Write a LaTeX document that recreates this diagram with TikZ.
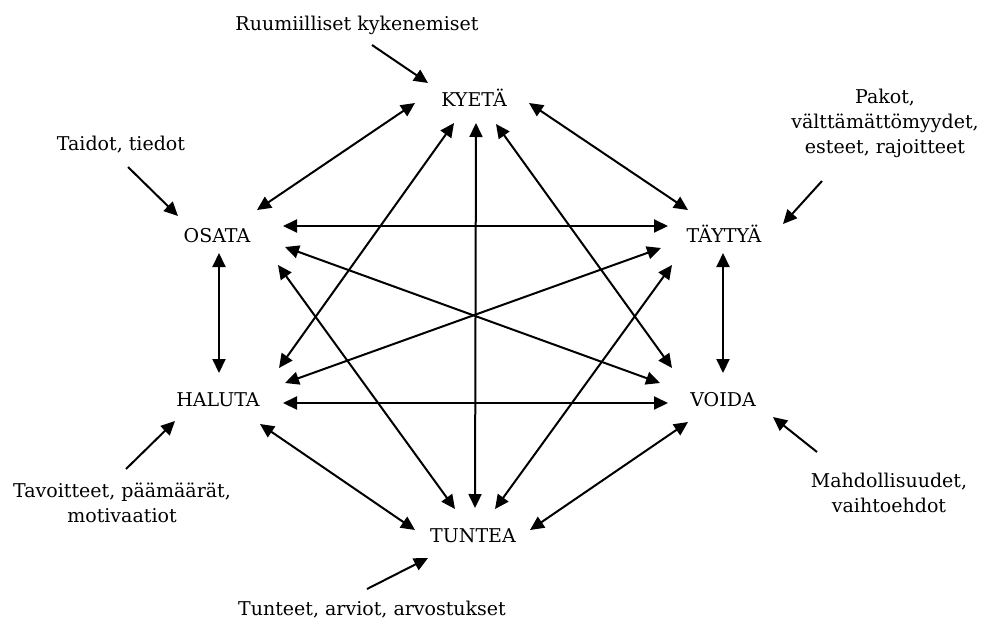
\documentclass[tikz,border=0pt]{standalone}
\usepackage{fontspec}
\setmainfont{DejaVu Serif}
\usetikzlibrary{arrows.meta,calc}
\begin{document}
\begin{tikzpicture}[x=1pt,y=-1pt,
  txt/.style={font=\fontsize{19}{25}\selectfont, inner sep=0pt, anchor=base},
  conn/.style={line width=2pt, {Triangle[length=14pt,width=13pt]}-{Triangle[length=14pt,width=13pt]}},
  lab/.style={line width=2pt, -{Triangle[length=14pt,width=13pt]}}]
\useasboundingbox (0,0) rectangle (987,619);
% main nodes
\node[txt] (kyeta)  at (474,106) {KYETÄ};
\node[txt] (osata)  at (217,242) {OSATA};
\node[txt] (taytya) at (724,242) {TÄYTYÄ};
\node[txt] (haluta) at (218,406) {HALUTA};
\node[txt] (voida)  at (723,406) {VOIDA};
\node[txt] (tuntea) at (473,542) {TUNTEA};
% labels
\node[txt] (ruum) at (357,30) {Ruumiilliset kykenemiset};
\node[txt] (taid) at (121,150) {Taidot, tiedot};
\node[txt] (pak) at (885,103) {\begin{tabular}[t]{@{}c@{}}Pakot,\\välttämättömyydet,\\esteet, rajoitteet\end{tabular}};
\node[txt] (tav) at (122,497) {\begin{tabular}[t]{@{}c@{}}Tavoitteet, päämäärät,\\motivaatiot\end{tabular}};
\node[txt] (mah) at (889,487) {\begin{tabular}[t]{@{}c@{}}Mahdollisuudet,\\vaihtoehdot\end{tabular}};
\node[txt] (tun) at (372,615) {Tunteet, arviot, arvostukset};
% label arrow tails
\coordinate (ruumT) at (372,45);
\coordinate (taidT) at (128,167);
\coordinate (pakT)  at (822,181);
\coordinate (tavT)  at (126,469);
\coordinate (mahT)  at (817,452);
\coordinate (tunT)  at (367,589);
\draw[lab] (ruumT) -- ($(kyeta.base)+(-46,-23)$);
\draw[lab] (taidT) -- ($(osata.base)+(-39,-26)$);
\draw[lab] (pakT)  -- ($(taytya.base)+(59,-18)$);
\draw[lab] (tavT)  -- ($(haluta.base)+(-43,15)$);
\draw[lab] (mahT)  -- ($(voida.base)+(50,11)$);
\draw[lab] (tunT)  -- ($(tuntea.base)+(-45,16)$);
% connectors
\draw[conn] ($(kyeta.base)+(-59,-3)$) -- ($(osata.base)+(40,-32)$);
\draw[conn] ($(kyeta.base)+(55,-3)$) -- ($(taytya.base)+(-36,-32)$);
\draw[conn] ($(kyeta.base)+(-20,17)$) -- ($(haluta.base)+(61,-38)$);
\draw[conn] ($(kyeta.base)+(2,17)$) -- ($(tuntea.base)+(2,-34)$);
\draw[conn] ($(kyeta.base)+(22,18)$) -- ($(voida.base)+(-51,-38)$);
\draw[conn] ($(osata.base)+(66,-16)$) -- ($(taytya.base)+(-56,-16)$);
\draw[conn] ($(osata.base)+(2,11)$) -- ($(haluta.base)+(1,-33)$);
\draw[conn] ($(osata.base)+(68,5)$) -- ($(voida.base)+(-63,-23)$);
\draw[conn] ($(osata.base)+(61,23)$) -- ($(tuntea.base)+(-18,-33)$);
\draw[conn] ($(taytya.base)+(-63,6)$) -- ($(haluta.base)+(67,-23)$);
\draw[conn] ($(taytya.base)+(-1,11)$) -- ($(voida.base)+(0,-33)$);
\draw[conn] ($(taytya.base)+(-52,23)$) -- ($(tuntea.base)+(22,-33)$);
\draw[conn] ($(haluta.base)+(65,-3)$) -- ($(voida.base)+(-55,-3)$);
\draw[conn] ($(haluta.base)+(42,18)$) -- ($(tuntea.base)+(-58,-12)$);
\draw[conn] ($(voida.base)+(-35,16)$) -- ($(tuntea.base)+(57,-12)$);
\end{tikzpicture}
\end{document}
